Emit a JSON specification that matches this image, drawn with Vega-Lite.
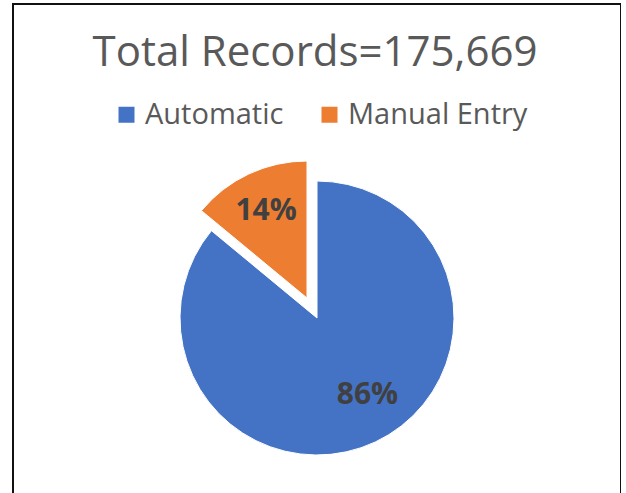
{
  "$schema": "https://vega.github.io/schema/vega-lite/v6.json",
  "autosize": "none",
  "padding": {"left": 13, "top": 4, "right": 0, "bottom": 0},
  "width": 608,
  "height": 628,
  "background": "white",
  "title": {
    "text": "Total Records=175,669",
    "orient": "top",
    "anchor": "middle",
    "font": "Open Sans",
    "fontSize": 42,
    "fontWeight": "normal",
    "color": "#595959",
    "baseline": "alphabetic",
    "offset": 0,
    "dy": 105,
    "dx": -2
  },
  "config": {
    "view": {"stroke": null},
    "font": "Open Sans"
  },
  "data": {
    "values": [
      {"category": "Automatic", "share": 0.86},
      {"category": "Manual Entry", "share": 0.14}
    ]
  },
  "layer": [
    {
      "mark": {"type": "rect", "filled": false, "stroke": "#111111", "strokeWidth": 2},
      "encoding": {}
    },
    {
      "mark": {"type": "arc", "radius": 137, "stroke": "white", "strokeWidth": 1},
      "encoding": {
        "theta": {"field": "share", "type": "quantitative", "stack": true},
        "order": {"field": "category", "type": "ordinal", "sort": "ascending"},
        "color": {
          "field": "category",
          "type": "nominal",
          "scale": {"domain": ["Automatic", "Manual Entry"], "range": ["#4472C4", "#ED7D31"]},
          "legend": {
            "orient": "none",
            "legendX": 99,
            "legendY": 96,
            "direction": "horizontal",
            "title": null,
            "symbolType": "square",
            "symbolSize": 256,
            "symbolStrokeWidth": 0,
            "labelFont": "Open Sans",
            "labelFontSize": 29,
            "labelColor": "#595959",
            "labelOffset": 4,
            "columnPadding": 31,
            "labelLimit": 400
          }
        },
        "opacity": {"condition": {"test": "datum.category === 'Automatic'", "value": 1}, "value": 0}
      }
    },
    {
      "mark": {"type": "arc", "radius": 137, "stroke": "white", "strokeWidth": 1, "xOffset": -10, "yOffset": -20},
      "encoding": {
        "theta": {"field": "share", "type": "quantitative", "stack": true},
        "order": {"field": "category", "type": "ordinal", "sort": "ascending"},
        "color": {"field": "category", "type": "nominal"},
        "opacity": {"condition": {"test": "datum.category === 'Manual Entry'", "value": 1}, "value": 0}
      }
    },
    {
      "mark": {"type": "text", "radius": 88, "dx": 13, "dy": -3, "font": "Open Sans", "fontSize": 30, "fontWeight": "bold", "fill": "#404040"},
      "encoding": {
        "theta": {"field": "share", "type": "quantitative", "stack": true},
        "order": {"field": "category", "type": "ordinal", "sort": "ascending"},
        "text": {"field": "share", "type": "quantitative", "format": ".0%"},
        "opacity": {"condition": {"test": "datum.category === 'Automatic'", "value": 1}, "value": 0}
      }
    },
    {
      "mark": {"type": "text", "radius": 96, "dx": -10, "dy": -20, "font": "Open Sans", "fontSize": 30, "fontWeight": "bold", "fill": "#404040"},
      "encoding": {
        "theta": {"field": "share", "type": "quantitative", "stack": true},
        "order": {"field": "category", "type": "ordinal", "sort": "ascending"},
        "text": {"field": "share", "type": "quantitative", "format": ".0%"},
        "opacity": {"condition": {"test": "datum.category === 'Manual Entry'", "value": 1}, "value": 0}
      }
    }
  ]
}
